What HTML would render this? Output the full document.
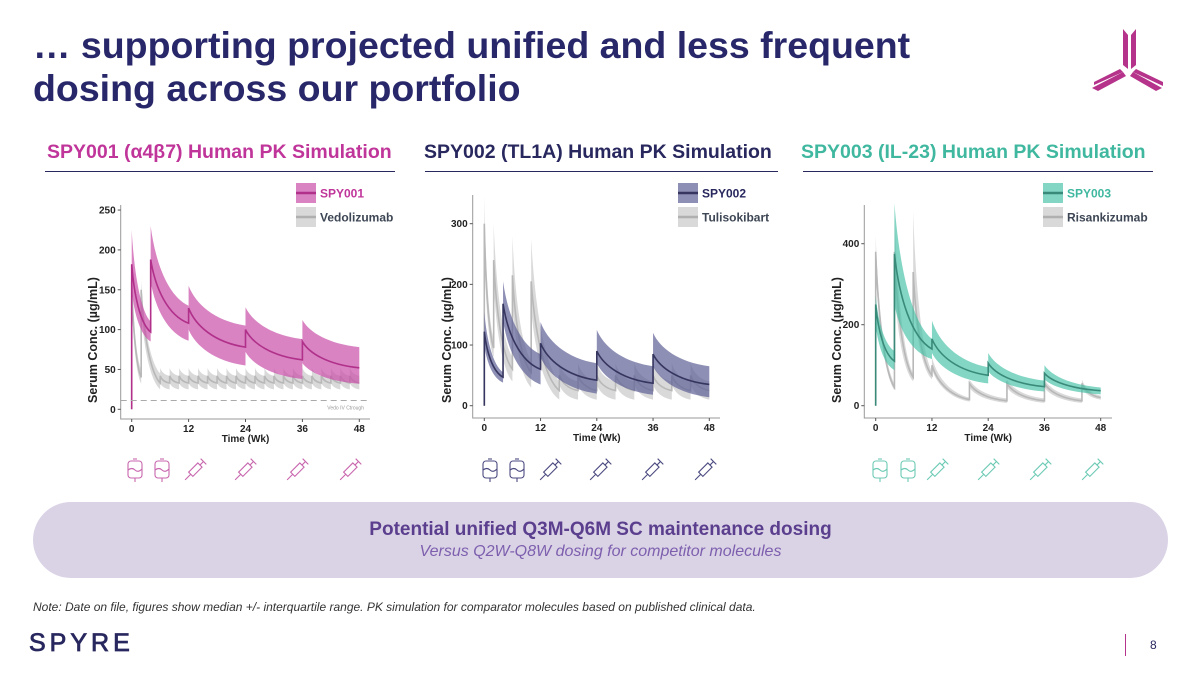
<!DOCTYPE html>
<html><head><meta charset="utf-8">
<style>
body{margin:0;width:1200px;height:675px;background:#fff;overflow:hidden;font-family:"Liberation Sans",Arial,sans-serif;position:relative}
.t{position:absolute;white-space:nowrap}
</style></head>
<body>
<div class="t" style="left:33px;top:24px;font-size:37.5px;font-weight:bold;color:#28276a;line-height:43px">… supporting projected unified and less frequent<br>dosing across our portfolio</div>
<svg style="position:absolute;left:1090px;top:25px" width="75" height="70" viewBox="0 0 75 70">
<g fill="#b5338a">
<polygon points="33,4 38,10 38,44 33,40"/><polygon points="41,10 46,4 46,40 41,44"/>
<polygon points="33,47 36,51 8,66 2,63"/><polygon points="30,44 33,47 4,60 4,57"/>
<polygon points="43,47 46,44 73,57 73,61"/><polygon points="40,51 43,47 72,63 66,66"/>
</g></svg>
<div class="t" style="left:47px;top:141px;font-size:19.5px;font-weight:bold;color:#c0359a">SPY001 (α4β7) Human PK Simulation</div>
<div class="t" style="left:424px;top:141px;font-size:19.5px;font-weight:bold;color:#28275e">SPY002 (TL1A) Human PK Simulation</div>
<div class="t" style="left:801px;top:141px;font-size:19.5px;font-weight:bold;color:#40b8a0">SPY003 (IL-23) Human PK Simulation</div>
<div style="position:absolute;left:45px;top:171px;width:350px;height:1px;background:#28275e"></div>
<div style="position:absolute;left:425px;top:171px;width:353px;height:1px;background:#28275e"></div>
<div style="position:absolute;left:803px;top:171px;width:350px;height:1px;background:#28275e"></div>

<svg id="charts" style="position:absolute;left:0;top:0" width="1200" height="500"></svg>

<div style="position:absolute;left:33px;top:502px;width:1135px;height:76px;border-radius:38px;background:#dad3e6"></div>
<div class="t" style="left:33px;width:1135px;text-align:center;top:519px;font-size:19px;font-weight:bold;color:#5b3f8e">Potential unified Q3M-Q6M SC maintenance dosing</div>
<div class="t" style="left:33px;width:1135px;text-align:center;top:543px;font-size:16px;font-style:italic;color:#7d5fae">Versus Q2W-Q8W dosing for competitor molecules</div>
<div class="t" style="left:33px;top:600px;font-size:12px;font-style:italic;color:#333">Note: Date on file, figures show median +/- interquartile range. PK simulation for comparator molecules based on published clinical data.</div>
<div class="t" style="left:29px;top:629px;font-size:25px;font-weight:normal;letter-spacing:4px;color:#28275e;-webkit-text-stroke:0.8px #28275e">SPYRE</div>
<div style="position:absolute;left:1125px;top:634px;width:1px;height:22px;background:#b5338a"></div>
<div class="t" style="left:1150px;top:638px;font-size:12px;color:#28275e">8</div>

<script>
// ---------- data ----------
const xTicks=[0,12,24,36,48];
const yTicks1=[0,50,100,150,200,250];
const yTicks2=[0,100,200,300];
const yTicks3=[0,200,400];
// SPY001
const spy001Doses=[0,4,12,24,36];
const spy001Peak=[182,188,127,100,85];
const spy001PeakHi=[225,230,155,128,112];
const spy001PeakLo=[150,160,100,72,58];
const spy001Trough=[97,108,78,62,52];
const spy001TroughHi=[110,130,105,88,78];
const spy001TroughLo=[85,86,55,38,32];
// Vedolizumab
const vedoDoses=[0,2,6,8,10,12,14,16,18,20,22,24,26,28,30,32,34,36,38,40,42,44,46];
const vedoPeak=[160,150,42,42,42,42,42,42,42,42,42,42,42,42,42,42,42,42,42,42,42,42,42];
const vedoPeakHi=[178,162,52,52,52,52,52,52,52,52,52,52,52,52,52,52,52,52,52,52,52,52,52];
const vedoPeakLo=[140,125,33,33,33,33,33,33,33,33,33,33,33,33,33,33,33,33,33,33,33,33,33];
const vedoTrough=[40,33,33,33,33,33,33,33,33,33,33,33,33,33,33,33,33,33,33,33,33,33,33];
const vedoTroughHi=[50,45,42,42,42,42,42,42,42,42,42,42,42,42,42,42,42,42,42,42,42,42,42];
const vedoTroughLo=[32,25,25,25,25,25,25,25,25,25,25,25,25,25,25,25,25,25,25,25,25,25,25];
const vedoCtrough=11;
// SPY002
const spy002Doses=[0,4,12,24,36];
const spy002Peak=[122,168,103,90,85];
const spy002PeakHi=[155,205,138,125,120];
const spy002PeakLo=[100,140,80,70,65];
const spy002Trough=[47,60,42,37,35];
const spy002TroughHi=[55,85,70,65,65];
const spy002TroughLo=[38,35,20,18,14];
// Tulisokibart
const tuliDoses=[0,2,6,10,16,20,24,28,32,36,40,44];
const tuliPeak=[300,240,215,205,50,50,50,50,50,50,50,50];
const tuliPeakHi=[345,300,280,275,70,70,70,70,70,70,70,70];
const tuliPeakLo=[255,200,170,160,35,35,35,35,35,35,35,35];
const tuliTrough=[95,60,55,25,25,25,25,25,25,25,25,25];
const tuliTroughHi=[110,80,75,40,40,40,40,40,40,40,40,40];
const tuliTroughLo=[80,40,30,10,10,10,10,10,10,10,10,10];
// SPY003
const spy003Doses=[0,4,12,24,36];
const spy003Peak=[250,375,165,105,80];
const spy003PeakHi=[272,500,210,130,100];
const spy003PeakLo=[200,250,130,85,65];
const spy003Trough=[110,140,75,47,37];
const spy003TroughHi=[135,165,95,62,45];
const spy003TroughLo=[88,115,55,35,28];
// Risankizumab
const risaDoses=[0,4,8,12,20,28,36,44];
const risaPeak=[380,380,330,100,55,55,55,55];
const risaPeakHi=[420,480,480,120,65,65,65,65];
const risaPeakLo=[350,300,280,90,45,45,45,45];
const risaTrough=[45,70,75,15,12,12,12,20];
const risaTroughHi=[55,80,85,20,18,18,18,25];
const risaTroughLo=[38,60,65,10,7,7,7,15];
const endWeek=48;

// ---------- drawing ----------
const NS="http://www.w3.org/2000/svg";
const svg=document.getElementById('charts');
function mk(tag,attrs,parent){const e=document.createElementNS(NS,tag);for(const k in attrs)e.setAttribute(k,attrs[k]);(parent||svg).appendChild(e);return e;}
function curve(X,Y,t0,t1,v0,v1){const x0=X(t0),x1=X(t1),y0=Y(v0),y1=Y(v1),dx=x1-x0;
 return [x0+0.12*dx,y0+0.45*(y1-y0),x0+0.45*dx,y1-0.12*(y1-y0),x1,y1];}
function drawSeries(g,X,Y,doses,pk,pkHi,pkLo,tr,trHi,trLo,bandFill,bandOp,lineCol,name){
 for(let i=0;i<doses.length;i++){
  const t0=doses[i],t1=i+1<doses.length?doses[i+1]:endWeek;
  const a=curve(X,Y,t0,t1,pkHi[i],trHi[i]);
  const b=curve(X,Y,t0,t1,pkLo[i],trLo[i]);
  const d=`M${X(t0)},${Y(pkHi[i])} C${a[0]},${a[1]} ${a[2]},${a[3]} ${a[4]},${a[5]} L${b[4]},${b[5]} C${b[2]},${b[3]} ${b[0]},${b[1]} ${X(t0)},${Y(pkLo[i])} Z`;
  const p=mk('path',{d:d,fill:bandFill,'fill-opacity':bandOp},g);
  
  
 }
 let d=`M${X(doses[0])},${Y(0)}`;
 for(let i=0;i<doses.length;i++){
  const t0=doses[i],t1=i+1<doses.length?doses[i+1]:endWeek;
  const c=curve(X,Y,t0,t1,pk[i],tr[i]);
  d+=` L${X(t0)},${Y(pk[i])} C${c[0]},${c[1]} ${c[2]},${c[3]} ${c[4]},${c[5]}`;
 }
 const l=mk('path',{d:d,fill:'none',stroke:lineCol,'stroke-width':1.6},g);
 
 
}
function txt(s,attrs,g){const t=mk('text',attrs,g);t.textContent=s;return t;}
function chart(c){
 const g=mk('g',{});
 
 
 const X=t=>c.x0+(c.x48-c.x0)*t/48;
 const Y=v=>c.y0-v*c.ppu;
 drawSeries(g,X,Y,...c.comp,'#cfcfcf',0.8,'#b8b8b8',c.compName);
 drawSeries(g,X,Y,...c.main,c.band,c.op,c.line,c.mainName);
 if(c.hline!==undefined){
  const hl=mk('line',{x1:c.axL,x2:c.axR,y1:Y(c.hline),y2:Y(c.hline),stroke:'#aaa','stroke-dasharray':'6,4','stroke-width':1},g);
  
  
  const ht=txt('Vedo IV Ctrough',{x:c.axR-6,y:Y(c.hline)+9,'font-size':5,fill:'#999','text-anchor':'end'},g);
  
  
 }
 const ax=mk('path',{d:`M${c.axL},${c.axT} L${c.axL},${c.axB} L${c.axR},${c.axB}`,fill:'none',stroke:'#999','stroke-width':1},g);
 
 
 c.yt.forEach(v=>{
  mk('line',{x1:c.axL-3,x2:c.axL,y1:Y(v),y2:Y(v),stroke:'#555'},g);
  const t=txt(v,{x:c.axL-5,y:Y(v)+3.5,'font-size':10,'font-weight':'bold','text-anchor':'end',fill:'#222'},g);
  
  
 });
 xTicks.forEach(v=>{
  mk('line',{x1:X(v),x2:X(v),y1:c.axB,y2:c.axB+3,stroke:'#555'},g);
  const t=txt(v,{x:X(v),y:c.axB+13,'font-size':10,'font-weight':'bold','text-anchor':'middle',fill:'#222'},g);
  
  
 });
 const xt=txt('Time (Wk)',{x:(X(0)+X(48))/2,y:c.axB+23,'font-size':10,'font-weight':'bold','text-anchor':'middle',fill:'#222'},g);
 
 
 const yt=txt('Serum Conc. (µg/mL)',{x:0,y:0,'font-size':12.5,'font-weight':'bold','text-anchor':'middle',fill:'#222',transform:`translate(${c.ytx},340) rotate(-90)`},g);
 
 
 [[c.mainName,c.band,c.op,c.line,c.legCol,c.legY],[c.compName,'#cfcfcf',0.8,'#b0b0b0','#3d4654',c.legY+24]].forEach(e=>{
  const r=mk('rect',{x:c.legX,y:e[5]-10,width:20,height:20,fill:e[1],'fill-opacity':e[2]},g);
  
  
  mk('line',{x1:c.legX,x2:c.legX+20,y1:e[5],y2:e[5],stroke:e[3],'stroke-width':2.5},g);
  const t=txt(e[0],{x:c.legX+24,y:e[5]+4.5,'font-size':12,'font-weight':'bold',fill:e[4]},g);
  
  
 });
 c.icons.forEach((ix,i)=>{
  const ig=mk('g',{transform:`translate(${ix},470)`,stroke:c.iconCol,fill:'none','stroke-width':1.1},g);
  
  
  if(i<2){mk('rect',{x:-7,y:-9,width:14,height:17,rx:3},ig);mk('line',{x1:-2,x2:2,y1:-11,y2:-11},ig);mk('line',{x1:0,x2:0,y1:8,y2:12},ig);mk('path',{d:'M-7,0 Q-3,-3 0,0 T7,-1'},ig);}
  else{const s=mk('g',{transform:'rotate(-45)'},ig);mk('rect',{x:-6,y:-3,width:13,height:6},s);mk('line',{x1:-6,x2:-14,y1:0,y2:0},s);mk('line',{x1:7,x2:12,y1:0,y2:0},s);mk('line',{x1:12,x2:12,y1:-4,y2:4},s);}
 });
}
chart({name:'spy001-chart',x0:131.7,x48:359.3,y0:409.3,ppu:0.797,axL:120.7,axR:370,axT:205,axB:419,yt:yTicks1,ytx:97,
 main:[spy001Doses,spy001Peak,spy001PeakHi,spy001PeakLo,spy001Trough,spy001TroughHi,spy001TroughLo],
 comp:[vedoDoses,vedoPeak,vedoPeakHi,vedoPeakLo,vedoTrough,vedoTroughHi,vedoTroughLo],
 mainName:'SPY001',compName:'Vedolizumab',band:'#c94fa8',op:0.7,line:'#b0308a',legCol:'#c0359a',legX:296,legY:193,hline:vedoCtrough,
 icons:[135,162,195,245,297,350],iconCol:'#c866ae'});
chart({name:'spy002-chart',x0:484.3,x48:709.3,y0:405.7,ppu:0.6067,axL:472.7,axR:720,axT:195,axB:418,yt:yTicks2,ytx:451,
 main:[spy002Doses,spy002Peak,spy002PeakHi,spy002PeakLo,spy002Trough,spy002TroughHi,spy002TroughLo],
 comp:[tuliDoses,tuliPeak,tuliPeakHi,tuliPeakLo,tuliTrough,tuliTroughHi,tuliTroughLo],
 mainName:'SPY002',compName:'Tulisokibart',band:'#5e5f96',op:0.7,line:'#35355f',legCol:'#28275e',legX:678,legY:193,
 icons:[490,517,550,600,652,705],iconCol:'#4b4a80'});
chart({name:'spy003-chart',x0:875.7,x48:1100.7,y0:405.7,ppu:0.405,axL:864.3,axR:1112,axT:205,axB:418,yt:yTicks3,ytx:841,
 main:[spy003Doses,spy003Peak,spy003PeakHi,spy003PeakLo,spy003Trough,spy003TroughHi,spy003TroughLo],
 comp:[risaDoses,risaPeak,risaPeakHi,risaPeakLo,risaTrough,risaTroughHi,risaTroughLo],
 mainName:'SPY003',compName:'Risankizumab',band:'#40c0a5',op:0.65,line:'#3a8a7a',legCol:'#40b8a0',legX:1043,legY:193,
 icons:[880,908,937,988,1040,1092],iconCol:'#6ccab5'});
</script>
</body></html>
